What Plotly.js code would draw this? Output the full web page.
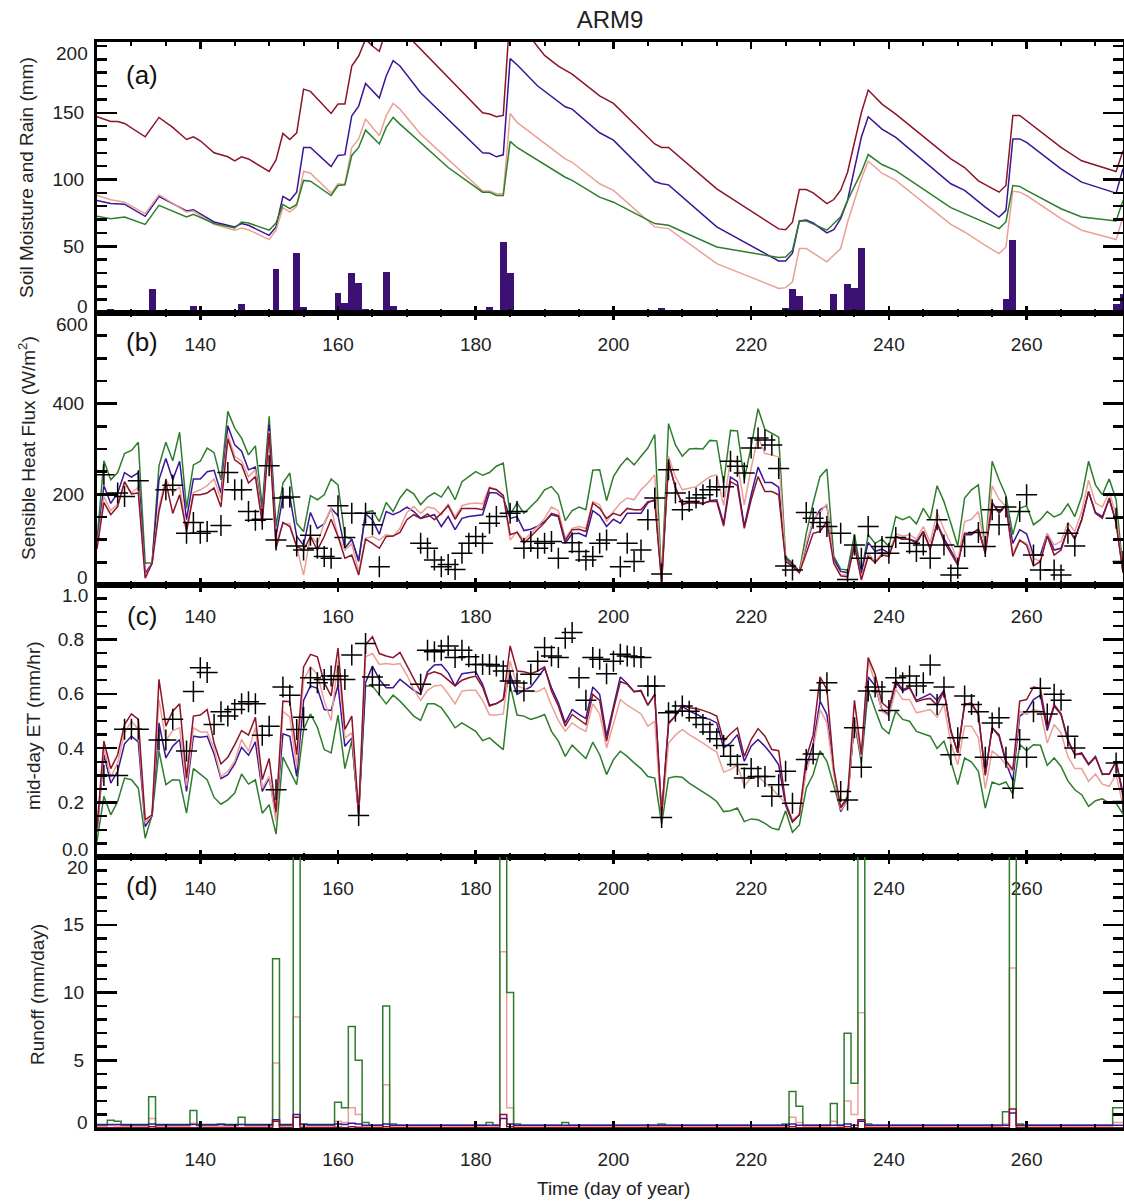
<!DOCTYPE html>
<html>
<head>
<meta charset="utf-8">
<script src="https://cdn.plot.ly/plotly-3.0.1.min.js"></script>
<style>html,body{margin:0;padding:0;background:#fff;}#chart{width:1124px;height:1201px;}</style>
</head>
<body>
<div id="chart"></div>
<script>
// ---------- data ----------
const DAYS = [
125,126,127,128,129,130,131,132,133,134,
135,136,137,138,139,140,141,142,143,144,
145,146,147,148,149,150,151,152,153,154,
155,156,157,158,159,160,161,162,163,164,
165,166,167,168,169,170,171,172,173,174,
175,176,177,178,179,180,181,182,183,184,
185,186,187,188,189,190,191,192,193,194,
195,196,197,198,199,200,201,202,203,204,
205,206,207,208,209,210,211,212,213,214,
215,216,217,218,219,220,221,222,223,224,
225,226,227,228,229,230,231,232,233,234,
235,236,237,238,239,240,241,242,243,244,
245,246,247,248,249,250,251,252,253,254,
255,256,257,258,259,260,261,262,263,264,
265,266,267,268,269,270,271,272,273,274];

// (a) soil moisture (mm), vertices of each line
const SM_RED_DAYS = [125,127,128,129,132,134,136,138,139,140,142,144,145,146,147,150,151,152,153,154,155,156,159,160,161,162,163,164,165,166,167,168,169,171,181,182,183,184,185,186,188,190,192,194,198,200,206,207,208,215,224,225,226,227,228,229,231,232,233,234,236,237,239,241,249,251,253,256,257,258,259,260,265,268,273,274];
const SM_RED = [147,143.5,143.5,142,132,146.5,139,130,132,129,120,117,114,117,115.4,106,114.7,134.5,130,135,167.7,166,149.5,156.5,156.5,185,192.5,205,200,196,212,226,222,203,150,149,147,148,226,220,206,193,185,179,162.7,157,126.6,124,124,93,63,62.4,68,92.5,92.5,90,82,85,92,105.5,150,167,156.5,149,115.4,109,99,90.5,95.5,148,148,144,124,114,106,121.6];
const SM_BLUE_DAYS = [125,127,129,132,134,138,139,142,145,146,147,150,151,152,153,154,155,156,159,160,161,162,163,164,166,167,168,169,172,181,182,183,184,185,186,189,193,194,198,200,206,207,208,215,224,225,226,227,228,229,231,232,233,234,236,237,239,241,249,251,254,256,257,258,259,260,265,268,273,274];
const SM_BLUE = [84.3,82,81.5,72.4,87.3,76.4,77.4,68.2,64.5,67,65.7,58.2,64.4,87.3,84.3,90.5,124,124,109.7,118,118.6,147.8,155,171.9,161,177.6,189,185,165,120,119.6,117,118.5,190.5,186,170,154.5,152.7,135,129.5,98.5,96.8,96,64.5,39,39,44.8,69,69.7,67.4,60,62.4,70.7,84.3,131.6,147,137.8,131.6,96.8,91.8,79.3,71.9,76.9,130.4,130.4,127.8,108,98,89.8,108];
const SM_SALMON_DAYS = [125,127,129,132,134,138,139,142,145,146,147,150,151,152,153,154,155,156,159,160,161,162,163,164,166,167,168,169,172,181,182,183,184,185,186,193,194,198,200,206,208,215,224,225,226,227,228,231,233,234,236,237,239,241,249,251,254,256,257,258,259,260,265,268,273,274];
const SM_SALMON = [88,84.8,83,74.4,88.6,75.6,76.4,66.4,62,63.7,62.4,55,62,78.9,75.6,79.9,106.2,104.7,89.8,96.8,96.3,124,130.4,145.3,132.8,147.8,157,152.7,134,91.3,91.3,89.3,89.3,149.5,142.8,115.4,112.9,96.8,91.8,64.5,63.2,37,18.4,19,23.4,48.3,48.3,38.3,48.3,68,100.5,113.7,104.7,99.3,66.4,60.7,50.7,44.5,49.5,91.3,90.5,88,70.7,62,55,71.9];
const SM_GREEN_DAYS = [125,127,129,132,134,138,139,142,145,146,147,150,151,152,153,154,155,156,159,160,161,162,163,164,166,167,168,169,176,181,182,183,184,185,186,193,194,198,200,206,208,215,224,225,226,227,228,231,233,234,236,237,239,241,249,251,254,256,257,258,259,260,265,268,273,274];
const SM_GREEN = [72.4,70.7,71.9,66.4,80.6,71.9,73.9,67,63.7,68.2,67.4,62,67.4,81.3,78.1,81.3,99.3,98.7,88,95.5,96,118,124,137,126.6,139,146.5,141.5,109,90.5,90.5,88,88,128.6,124,101.7,99.3,86.8,83,67,65.7,49.5,41.5,42,47,69,69,62,72,84.3,105.5,118.7,111.2,106.7,78.9,74.4,68.2,63.2,68.2,95.5,94.8,91.8,78.1,71.9,69,84.3];

// (a) rain (mm)
const RAIN_DAYS = [127,128,133,139,140,143,146,151,154,155,160,161,162,163,164,166,167,168,182,184,185,193,199,207,225,226,227,232,234,235,236,257,258,273,274];
const RAIN = [3,1.5,17.7,5.2,1,0.8,6.7,33,45.3,4.2,14.7,7.7,29.6,22.6,2.7,1.5,30.4,5.2,4.7,53.2,30,2.2,1.5,3.5,4,17.7,12.7,14.2,21.4,18.4,48.7,10.4,55,6.5,14.2];

// (b) sensible heat flux (W/m2)
const SH_GREEN = [
100,274,232,248,290,297,315,48,49,263,
315,274,337,169,265,273,302,292,232,383,
346,324,287,307,173,372,129,225,247,136,
118,197,188,199,234,221,107,101,55,160,
164,140,182,162,192,211,201,177,194,203,
194,217,188,228,239,250,242,248,262,269,
155,181,158,173,188,210,217,199,142,164,
172,166,253,254,186,239,263,280,265,284,
302,332,11,356,309,284,300,301,300,319,
318,225,341,340,232,306,389,343,335,326,
63,48,30,114,181,239,256,63,35,33,
111,26,111,92,101,85,151,144,151,135,
169,145,219,184,136,86,192,210,221,77,
273,232,197,111,169,175,133,144,162,150,
157,179,151,195,273,221,199,234,188,33];
const SH_BLUE = [
90,219,180,203,248,238,248,26,48,232,
279,232,273,144,234,234,250,253,203,351,
309,295,254,260,155,354,107,195,195,107,
88,160,125,135,169,153,81,101,52,157,
144,112,162,155,162,172,162,147,151,155,
129,151,122,147,151,153,155,204,203,192,
147,151,120,123,130,140,155,151,92,113,
114,107,164,153,129,145,136,158,158,158,
181,189,11,270,216,177,184,182,179,186,
188,136,238,228,129,199,260,226,226,216,
59,44,30,85,140,166,175,57,30,27,
92,26,94,74,79,70,107,101,101,96,
118,81,136,103,77,49,111,111,123,74,
181,162,177,92,122,113,66,66,113,77,
81,125,103,144,206,160,151,189,140,30];
const SH_SALMON = [
85,195,164,179,226,203,216,18,48,173,
234,203,217,123,204,210,219,234,189,332,
284,273,239,254,144,339,92,135,135,83,
22,108,92,136,169,107,77,91,30,103,
107,99,111,107,125,160,173,158,172,169,
155,179,150,175,179,181,179,216,211,199,
99,118,99,113,129,147,172,164,103,125,
129,125,184,177,140,162,181,192,188,210,
225,243,7,284,239,210,214,217,228,239,
243,175,276,269,177,258,328,290,287,282,
55,41,27,92,144,160,179,49,22,22,
88,15,70,52,70,66,113,108,111,101,
129,94,160,123,91,52,140,145,162,79,
219,189,173,70,99,92,59,52,114,88,
96,138,118,162,231,181,172,204,155,26];
const SH_RED = [
80,182,155,173,228,201,203,15,48,162,
228,158,199,118,199,199,203,214,172,322,
276,265,225,239,136,335,81,138,129,85,
77,107,77,107,145,107,59,66,22,101,
92,81,107,108,116,144,155,147,157,144,
158,175,145,169,169,169,166,214,210,197,
111,116,92,107,122,138,158,153,98,122,
123,118,181,169,147,158,153,169,166,166,
184,186,4,273,214,179,181,181,181,184,
184,130,228,219,125,188,239,206,206,199,
52,41,27,70,114,118,140,48,20,18,
88,11,63,49,66,63,107,101,101,92,
118,79,136,96,70,44,114,114,123,69,
181,158,175,63,99,88,42,52,108,66,
77,125,101,144,206,158,147,192,136,27];
const SH_OBS_DAYS = [126,128,129,131,135,136,138,139,140,141,143,144,145,146,147,148,149,150,151,152,153,154,155,156,157,158,159,160,161,162,164,165,166,172,173,174,175,176,177,178,179,180,181,182,183,185,186,187,188,189,190,191,192,194,195,196,197,198,199,201,202,203,204,205,206,207,208,209,210,211,212,213,214,215,216,217,218,219,220,221,222,223,224,225,226,228,229,230,231,233,234,235,236,237,238,239,240,241,243,244,245,246,247,248,249,250,251,253,254,255,256,257,259,260,261,262,264,265,266,267,273,274];
const SH_OBS = [243,203,195,230,210,220,114,138,114,118,131,248,210,210,162,143,145,263,99,192,194,86,77,110,81,63,59,175,105,158,158,133,40,92,81,55,40,45,34,70,92,107,92,136,151,158,162,81,96,81,92,96,59,93,74,55,63,92,99,40,92,52,77,144,192,24,254,203,166,184,192,199,210,217,217,273,262,247,302,324,320,309,257,42,33,160,147,138,129,114,12,88,59,129,70,85,70,105,92,74,88,59,144,88,22,37,85,116,85,166,133,172,162,199,66,33,33,22,114,86,147,52];

// (c) mid-day ET (mm/hr)
const ET_RED = [
.106,.426,.325,.376,.487,.526,.506,.137,.155,.653,
.481,.536,.563,.29,.518,.522,.542,.419,.342,.367,
.413,.465,.448,.514,.284,.362,.167,.573,.571,.376,
.699,.745,.736,.641,.592,.768,.469,.518,.157,.78,
.81,.748,.739,.733,.752,.702,.653,.608,.672,.681,
.672,.65,.629,.65,.659,.665,.625,.555,.564,.579,
.776,.684,.681,.674,.684,.699,.61,.555,.481,.524,
.506,.487,.598,.576,.426,.542,.645,.635,.608,.613,
.558,.598,.155,.49,.518,.558,.549,.546,.539,.53,
.518,.426,.453,.475,.37,.432,.472,.444,.395,.391,
.2,.13,.155,.364,.448,.662,.616,.325,.182,.223,
.576,.376,.733,.672,.567,.546,.649,.616,.625,.571,
.579,.583,.558,.61,.462,.383,.561,.567,.524,.3,
.475,.45,.354,.321,.573,.579,.625,.62,.475,.561,
.526,.432,.376,.379,.339,.367,.305,.305,.352,.235];
const ET_BLUE = [
.093,.376,.272,.315,.416,.444,.423,.112,.152,.493,
.364,.407,.432,.241,.444,.44,.444,.379,.288,.303,
.342,.403,.374,.423,.241,.29,.155,.453,.444,.296,
.576,.629,.62,.542,.539,.632,.407,.438,.157,.641,
.702,.653,.622,.622,.653,.632,.613,.598,.681,.706,
.708,.678,.629,.674,.678,.681,.635,.558,.564,.579,
.672,.598,.613,.625,.659,.694,.622,.567,.493,.542,
.524,.509,.625,.598,.444,.555,.662,.638,.608,.61,
.558,.598,.155,.493,.518,.555,.536,.526,.512,.506,
.493,.401,.419,.45,.352,.407,.432,.407,.376,.339,
.19,.128,.155,.333,.413,.573,.524,.315,.167,.21,
.499,.364,.662,.629,.542,.524,.641,.61,.622,.576,
.588,.6,.576,.613,.465,.383,.563,.561,.524,.305,
.475,.444,.346,.28,.518,.536,.579,.595,.465,.555,
.524,.426,.376,.383,.342,.37,.303,.305,.352,.223];
const ET_SALMON = [
.1,.401,.293,.346,.456,.5,.469,.124,.155,.579,
.428,.465,.475,.26,.475,.46,.46,.399,.296,.315,
.352,.432,.389,.475,.253,.296,.13,.536,.514,.333,
.649,.699,.672,.573,.502,.721,.438,.456,.157,.736,
.748,.708,.711,.708,.711,.669,.616,.576,.613,.629,
.632,.6,.563,.61,.613,.613,.576,.522,.522,.526,
.721,.629,.62,.608,.608,.622,.558,.502,.462,.493,
.475,.462,.563,.526,.401,.493,.579,.558,.542,.526,
.481,.499,.143,.419,.448,.469,.45,.435,.419,.401,
.386,.312,.321,.339,.26,.293,.296,.272,.253,.223,
.2,.137,.155,.315,.395,.542,.493,.303,.173,.204,
.512,.364,.721,.641,.536,.518,.616,.579,.579,.53,
.536,.542,.514,.561,.419,.339,.481,.481,.438,.251,
.389,.37,.339,.315,.536,.524,.542,.536,.419,.487,
.456,.37,.325,.325,.278,.305,.268,.26,.303,.189];
const ET_GREEN = [
.057,.223,.155,.204,.29,.284,.253,.069,.155,.389,
.266,.284,.282,.161,.325,.303,.284,.219,.194,.21,
.235,.305,.268,.284,.161,.192,.084,.367,.317,.266,
.469,.526,.477,.395,.383,.522,.325,.428,.155,.629,
.629,.598,.563,.595,.573,.546,.518,.502,.563,.563,
.549,.514,.475,.493,.477,.462,.428,.438,.416,.395,
.632,.522,.518,.506,.514,.524,.462,.426,.37,.411,
.386,.362,.422,.376,.303,.358,.389,.37,.346,.325,
.296,.29,.121,.29,.296,.293,.272,.256,.241,.223,
.204,.167,.17,.18,.13,.14,.137,.124,.106,.1,
.17,.091,.118,.253,.303,.391,.352,.266,.173,.216,
.502,.346,.616,.542,.475,.453,.536,.506,.499,.462,
.453,.444,.399,.426,.352,.266,.364,.349,.315,.18,
.276,.266,.276,.231,.413,.391,.413,.411,.337,.364,
.333,.28,.247,.229,.186,.207,.214,.198,.198,.157];
const ET_OBS_DAYS = [126,128,129,130,131,134,135,136,138,139,140,141,142,143,144,145,146,147,148,149,150,151,152,153,154,155,156,157,158,159,160,161,162,163,164,165,166,172,173,174,175,176,177,178,179,180,181,182,183,184,185,186,187,188,189,190,191,192,193,194,195,196,197,198,199,200,201,202,203,204,205,206,207,208,209,210,211,212,213,214,215,216,217,218,219,220,221,222,223,224,225,226,228,229,230,231,233,234,235,236,237,238,239,240,241,242,243,244,245,246,247,248,249,250,251,252,253,254,255,256,257,258,259,260,261,262,263,264,265,266,267,273,274];
const ET_OBS = [.30,.30,.47,.47,.47,.43,.43,.506,.39,.608,.696,.678,.487,.534,.518,.542,.563,.571,.563,.448,.481,.247,.625,.595,.469,.514,.659,.641,.653,.665,.665,.653,.743,.153,.785,.662,.632,.635,.76,.755,.76,.776,.733,.76,.736,.708,.708,.708,.702,.684,.647,.64,.61,.672,.72,.77,.739,.733,.804,.825,.659,.576,.733,.727,.674,.72,.745,.739,.736,.733,.629,.629,.145,.53,.536,.555,.536,.512,.487,.46,.435,.41,.37,.34,.29,.325,.296,.296,.223,.266,.315,.198,.358,.379,.613,.641,.241,.21,.475,.33,.61,.625,.608,.539,.659,.641,.665,.629,.641,.706,.561,.625,.376,.438,.592,.561,.534,.367,.493,.512,.367,.253,.432,.367,.534,.62,.526,.598,.576,.444,.401,.346,.204];

// (d) runoff (mm/day)
const RO_GREEN = [
.2,.2,.58,.5,.2,.2,.2,.2,2.3,.2,
.2,.2,.2,.2,1.3,.2,.2,.2,.3,.2,
.2,.8,.2,.2,.2,.2,12.5,.2,.2,30,
.3,.2,.2,.2,.2,1.9,1.5,7.5,5.0,.4,
.2,.2,9.0,.3,.2,.2,.2,.2,.2,.2,
.2,.2,.2,.2,.2,.2,.2,.4,.2,30,
10,.3,.2,.2,.2,.2,.2,.2,.4,.2,
.2,.2,.2,.2,.2,.2,.2,.2,.2,.2,
.2,.2,.3,.2,.2,.2,.2,.2,.2,.2,
.2,.2,.2,.2,.2,.2,.2,.2,.2,.2,
.3,2.7,1.6,.2,.2,.2,.2,1.8,.2,7.0,
3.3,30,.3,.2,.2,.2,.2,.2,.2,.2,
.2,.2,.2,.2,.2,.2,.2,.2,.2,.2,
.2,.2,1.2,30,.3,.2,.2,.2,.2,.2,
.2,.2,.2,.2,.2,.2,.2,.2,1.5,1.5];
const RO_SALMON = [
.1,.1,.2,.15,.1,.1,.1,.1,.7,.1,
.1,.1,.1,.1,.35,.1,.1,.1,.12,.1,
.1,.25,.1,.1,.1,.1,4.8,.1,.1,8.2,
.1,.1,.1,.1,.1,.5,.4,1.5,1.0,.1,
.1,.1,3.2,.1,.1,.1,.1,.1,.1,.1,
.1,.1,.1,.1,.1,.1,.1,.15,.1,13,
1.5,.1,.1,.1,.1,.1,.1,.1,.1,.1,
.1,.1,.1,.1,.1,.1,.1,.1,.1,.1,
.1,.1,.1,.1,.1,.1,.1,.1,.1,.1,
.1,.1,.1,.1,.1,.1,.1,.1,.1,.1,
.1,.8,.4,.1,.1,.1,.1,.5,.1,2.0,
1.0,8.5,.1,.1,.1,.1,.1,.1,.1,.1,
.1,.1,.1,.1,.1,.1,.1,.1,.1,.1,
.1,.1,.3,11.8,.1,.1,.1,.1,.1,.1,
.1,.1,.1,.1,.1,.1,.1,.1,.4,.4];
const RO_BLUE = [
.25,.25,.25,.25,.25,.25,.25,.25,.3,.25,
.25,.25,.25,.25,.25,.25,.25,.25,.25,.25,
.25,.25,.25,.25,.25,.25,.6,.25,.25,1.0,
.25,.25,.25,.25,.25,.3,.25,.35,.3,.2,
.2,.2,.3,.2,.2,.2,.2,.2,.2,.2,
.2,.2,.2,.2,.2,.2,.2,.2,.2,.7,
.3,.2,.2,.2,.2,.2,.2,.2,.2,.2,
.2,.2,.2,.2,.2,.2,.2,.2,.2,.2,
.2,.2,.2,.2,.2,.2,.2,.2,.2,.2,
.2,.2,.2,.2,.2,.2,.2,.2,.2,.2,
.2,.3,.2,.2,.2,.2,.2,.2,.2,.3,
.2,.5,.2,.2,.2,.2,.2,.2,.2,.2,
.2,.2,.2,.2,.2,.2,.2,.2,.2,.2,
.2,.2,.2,1.1,.2,.2,.2,.2,.2,.2,
.2,.2,.2,.2,.2,.2,.2,.2,.2,.2];
const RO_RED = [
.02,.02,.02,.02,.02,.02,.02,.02,.1,.02,
.02,.02,.02,.02,.02,.02,.02,.02,.02,.02,
.02,.02,.02,.02,.02,.02,.5,.02,.02,.8,
.02,.02,.02,.02,.02,.05,.02,.1,.05,.02,
.02,.02,.1,.02,.02,.02,.02,.02,.02,.02,
.02,.02,.02,.02,.02,.02,.02,.02,.02,1.0,
.1,.02,.02,.02,.02,.02,.02,.02,.02,.02,
.02,.02,.02,.02,.02,.02,.02,.02,.02,.02,
.02,.02,.02,.02,.02,.02,.02,.02,.02,.02,
.02,.02,.02,.02,.02,.02,.02,.02,.02,.02,
.02,.1,.02,.02,.02,.02,.02,.02,.02,.1,
.02,.6,.02,.02,.02,.02,.02,.02,.02,.02,
.02,.02,.02,.02,.02,.02,.02,.02,.02,.02,
.02,.02,.02,1.4,.02,.02,.02,.02,.02,.02,
.02,.02,.02,.02,.02,.02,.02,.02,.02,.02];

// tick labels of the panels' y axes (interior ones; the end labels are placed by hand as in the original)
const YA_TICKS = [50,100,150], YB_TICKS = [200,400], YC_TICKS = [0.2,0.4,0.6,0.8], YD_TICKS = [5,10,15];
const END_LABELS = [['200',53],['0',306],['600',324],['0',577],['1.0',595],['0.0',849],['20',868],['0',1122]];

// ---------- styling ----------
const FONT = 'Liberation Sans, Arial, Helvetica, sans-serif';
const C_RED = '#8C1428', C_BLUE = '#3C1496', C_SALMON = '#EBA096', C_GREEN = '#2D7D2D', C_RAIN = '#3D1174';
const LW = 1.5;

function line(x, y, color, ax, shape) {
  return {type:'scatter', mode:'lines', x:x, y:y, xaxis:'x'+ax, yaxis:'y'+ax,
    line:{color:color, width:LW, shape:shape||'linear'}, hoverinfo:'skip'};
}
function obs(x, y, ax) {
  return {type:'scatter', mode:'markers', x:x, y:y, xaxis:'x'+ax, yaxis:'y'+ax,
    marker:{symbol:'cross-thin', size:15, color:'#000', line:{color:'#000', width:1.5}}, hoverinfo:'skip'};
}

const traces = [
  {type:'bar', x:RAIN_DAYS, y:RAIN, width:1, xaxis:'x', yaxis:'y', marker:{color:C_RAIN, line:{width:0}}, hoverinfo:'skip'},
  line(SM_RED_DAYS, SM_RED, C_RED, ''),
  line(SM_BLUE_DAYS, SM_BLUE, C_BLUE, ''),
  line(SM_SALMON_DAYS, SM_SALMON, C_SALMON, ''),
  line(SM_GREEN_DAYS, SM_GREEN, C_GREEN, ''),

  line(DAYS, SH_GREEN, C_GREEN, '2'),
  line(DAYS, SH_BLUE, C_BLUE, '2'),
  line(DAYS, SH_SALMON, C_SALMON, '2'),
  line(DAYS, SH_RED, C_RED, '2'),
  obs(SH_OBS_DAYS, SH_OBS, '2'),

  line(DAYS, ET_GREEN, C_GREEN, '3'),
  line(DAYS, ET_BLUE, C_BLUE, '3'),
  line(DAYS, ET_SALMON, C_SALMON, '3'),
  line(DAYS, ET_RED, C_RED, '3'),
  obs(ET_OBS_DAYS, ET_OBS, '3'),

  line(DAYS, RO_SALMON, C_SALMON, '4', 'hvh'),
  line(DAYS, RO_GREEN, C_GREEN, '4', 'hvh'),
  line(DAYS, RO_BLUE, C_BLUE, '4', 'hvh'),
  line(DAYS, RO_RED, C_RED, '4', 'hvh')
];

const H = 1086;
function py(p) { return (1128 - p) / H; }   // pixel -> paper y
function px(p) { return (p - 97) / 1026; }  // pixel -> paper x

function xax(anchor) {
  return {anchor:anchor, range:[125,274], tick0:0, dtick:20, ticks:'inside', ticklen:7, tickwidth:2.5,
    tickcolor:'#000', showline:true, linewidth:3, linecolor:'#000', mirror:'allticks',
    showgrid:false, zeroline:false, ticklabelstandoff:12,
    minor:{dtick:5, ticks:'inside', ticklen:4, tickwidth:2, tickcolor:'#000', showgrid:false},
    tickfont:{family:FONT, size:19, color:'#222'}};
}
function yax(anchor, domain, range, vals, minor) {
  return {anchor:anchor, domain:domain, range:range, tickmode:'array', tickvals:vals,
    ticks:'inside', ticklen:20, tickwidth:2.5, tickcolor:'#000', showline:true, linewidth:3,
    linecolor:'#000', mirror:'allticks', showgrid:false, zeroline:false, ticklabelstandoff:6,
    minor:{tick0:0, dtick:minor, ticks:'inside', ticklen:10, tickwidth:2.5, tickcolor:'#000', showgrid:false},
    tickfont:{family:FONT, size:19, color:'#222'}};
}

const ann = [];
function txt(text, x, y, size, opts) {
  ann.push(Object.assign({text:text, xref:'paper', yref:'paper', x:x, y:y, showarrow:false,
    xanchor:'center', yanchor:'middle', borderpad:0, font:{family:FONT, size:size, color:'#222'}}, opts||{}));
}
// panel labels
['(a)','(b)','(c)','(d)'].forEach((t, i) => txt(t, px(141.5), py([75,342,616,886][i]), 26, {font:{family:FONT, size:26, color:'#111'}}));
// end tick labels
END_LABELS.forEach(e => txt(e[0], px(89), py(e[1]), 19, {xanchor:'right'}));
// axis titles
txt('Soil Moisture and Rain (mm)', px(26), py(178), 19, {textangle:-90});
txt('Sensible Heat Flux (W/m<sup>2</sup>)', px(27), py(448), 19, {textangle:-90});
txt('mid-day ET (mm/hr)', px(34), py(726), 19, {textangle:-90});
txt('Runoff (mm/day)', px(37), py(995), 19, {textangle:-90});
txt('Time (day of year)', px(613), py(1188), 19);

const layout = {
  width:1124, height:1201, margin:{l:97, r:1, t:42, b:73},
  paper_bgcolor:'#fff', plot_bgcolor:'#fff', showlegend:false, bargap:0,
  font:{family:FONT, color:'#222'},
  title:{text:'ARM9', font:{family:FONT, size:24, color:'#222'}, x:0.5, xref:'paper',
    y:1 - 20/1201, yref:'container', yanchor:'middle'},
  xaxis: xax('y'),
  xaxis2: xax('y2'),
  xaxis3: xax('y3'),
  xaxis4: xax('y4'),
  yaxis: yax('x', [py(313), 1], [0,203], YA_TICKS, 10),
  yaxis2: yax('x2', [py(585), py(313)], [0,600], YB_TICKS, 50),
  yaxis3: yax('x3', [py(857), py(585)], [0,1], YC_TICKS, 0.05),
  yaxis4: yax('x4', [0, py(857)], [0,20], YD_TICKS, 1),
  annotations: ann
};

Plotly.newPlot('chart', traces, layout, {displayModeBar:false, staticPlot:true});
</script>
</body>
</html>
